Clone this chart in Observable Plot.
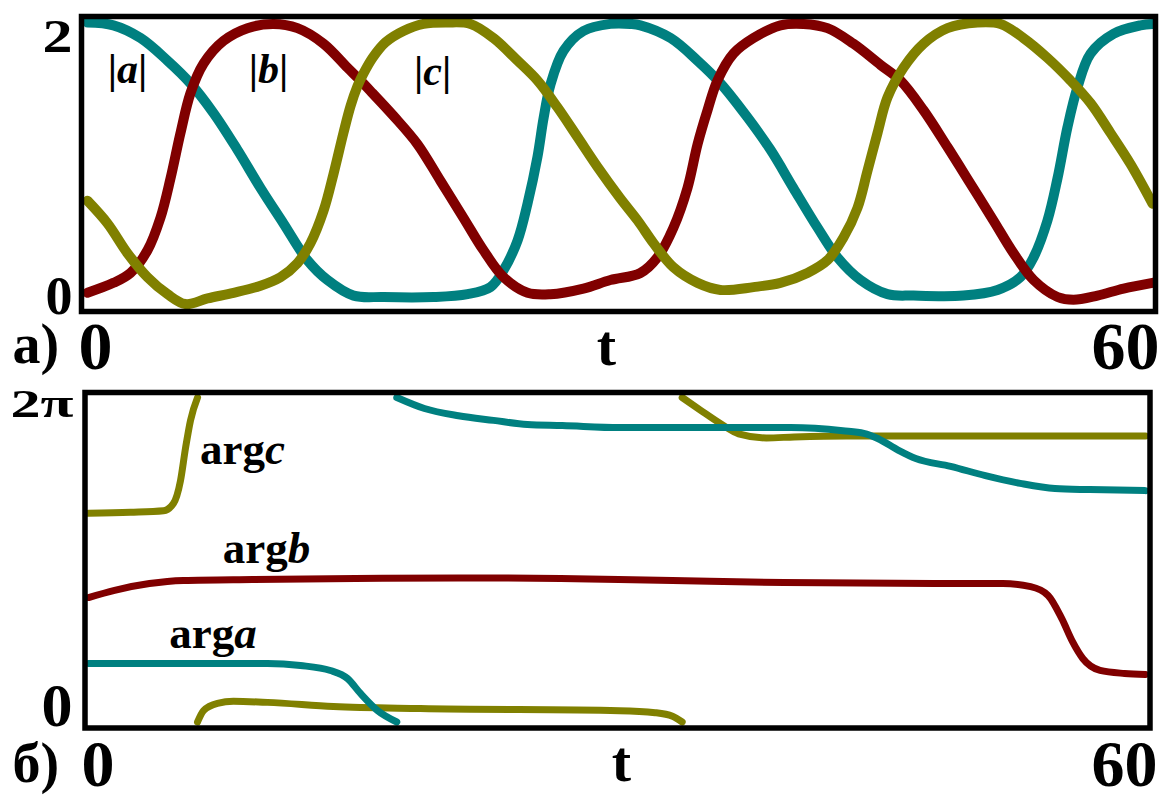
<!DOCTYPE html>
<html>
<head>
<meta charset="utf-8">
<script src="https://cdn.jsdelivr.net/npm/d3@7"></script>
<script src="https://cdn.jsdelivr.net/npm/@observablehq/plot@0.6"></script>
<style>
  html, body { margin: 0; padding: 0; background: #fff; }
  #chart svg { display: block; }
</style>
</head>
<body>
<div id="chart"></div>
<script>
// Moduli of the three wave amplitudes, [t, |x|]
const absA = [[0,2.0],[1.46,1.98],[2.99,1.89],[4.51,1.73],[5.80,1.57],[7.10,1.36],[8.45,1.10],[9.75,0.83],[11.04,0.58],[12.39,0.32],[13.52,0.18],[14.99,0.07],[16.68,0.06],[19.49,0.06],[21.41,0.08],[22.70,0.13],[23.44,0.25],[24.23,0.46],[24.79,0.72],[25.35,1.05],[25.69,1.32],[26.08,1.56],[26.82,1.80],[27.94,1.94],[29.46,1.99],[30.59,1.99],[31.15,1.98],[32.85,1.89],[34.37,1.73],[35.66,1.57],[37.18,1.33],[38.48,1.10],[39.77,0.83],[41.13,0.55],[42.25,0.34],[43.55,0.18],[45.07,0.08],[46.54,0.07],[49.35,0.07],[51.27,0.11],[52.56,0.20],[53.30,0.34],[54.08,0.60],[54.65,0.90],[55.21,1.26],[55.77,1.54],[56.51,1.78],[57.80,1.92],[59.32,1.98],[60,1.99]];
const absB = [[0,0.09],[1.46,0.16],[2.42,0.23],[3.38,0.39],[4.11,0.62],[4.68,0.90],[5.24,1.22],[5.80,1.50],[6.54,1.71],[7.66,1.87],[9.01,1.96],[10.48,1.99],[11.83,1.96],[13.30,1.85],[14.65,1.68],[15.38,1.59],[16.06,1.50],[17.24,1.34],[18.59,1.14],[19.89,0.88],[21.18,0.62],[22.31,0.39],[23.44,0.20],[24.79,0.09],[26.08,0.08],[27.94,0.12],[29.46,0.18],[31.15,0.23],[32.11,0.34],[33.01,0.55],[33.80,0.83],[34.37,1.14],[34.93,1.38],[35.49,1.59],[36.39,1.78],[37.52,1.89],[39.04,1.98],[40.34,1.99],[41.69,1.96],[43.15,1.85],[44.68,1.70],[45.80,1.59],[47.10,1.38],[48.45,1.12],[49.75,0.86],[51.04,0.60],[52.17,0.37],[53.30,0.18],[54.65,0.06],[55.55,0.04],[56.90,0.07],[58.37,0.12],[60,0.16]];
const absC = [[0,0.74],[1.13,0.58],[2.25,0.37],[3.38,0.20],[4.51,0.08],[5.52,0.01],[6.76,0.05],[8.23,0.09],[9.75,0.14],[10.87,0.20],[11.83,0.30],[12.56,0.44],[13.30,0.67],[13.86,0.93],[14.42,1.22],[14.82,1.41],[15.21,1.55],[15.55,1.64],[16.06,1.75],[16.79,1.86],[17.80,1.94],[18.93,1.99],[20.28,2.0],[21.58,1.99],[22.87,1.89],[24.23,1.73],[25.35,1.59],[26.48,1.40],[27.61,1.19],[28.73,0.98],[30.0,0.76],[31.0,0.60],[31.89,0.44],[33.01,0.27],[34.37,0.16],[35.66,0.11],[37.52,0.13],[39.04,0.16],[40.56,0.23],[41.69,0.32],[42.59,0.48],[43.38,0.69],[43.94,0.95],[44.51,1.22],[45.07,1.47],[45.97,1.68],[47.10,1.85],[48.45,1.96],[50.14,2.0],[51.44,1.99],[52.73,1.89],[54.08,1.75],[55.38,1.59],[56.51,1.43],[57.63,1.22],[58.76,1.00],[60,0.72]];

// Phases wrapped into [0, 2π]; each inner array is one continuous branch
const TWO_PI = 2 * Math.PI;
const argA = [
  [[0,1.133],[10.16,1.133],[12.03,1.094],[13.73,0.997],[14.70,0.842],[15.44,0.552],[16.40,0.223],[17.5,0]],
  [[17.5,TWO_PI],[19.07,6.07],[21.0,5.93],[22.99,5.84],[24.91,5.76],[26.9,5.74],[30.14,5.70],[34.14,5.70],[39.86,5.70],[42.82,5.64],[44.01,5.59],[44.80,5.49],[45.98,5.26],[46.96,5.10],[48.94,4.95],[50.91,4.77],[52.89,4.62],[54.86,4.52],[56.83,4.50],[60,4.48]]
];
const argB = [
  [[0,2.41],[1.48,2.55],[3.46,2.68],[5.39,2.74],[9.31,2.76],[15.15,2.78],[21.0,2.79],[30.1,2.76],[33.15,2.74],[39.47,2.70],[47.95,2.68],[51.9,2.68],[53.48,2.62],[54.47,2.45],[55.25,2.00],[55.85,1.56],[56.44,1.23],[57.42,1.00],[58.81,0.94],[60,0.92]]
];
const argC = [
  [[0,4.04],[2.38,4.06],[4.26,4.09],[4.82,4.23],[5.22,4.67],[5.51,5.31],[5.79,5.84],[6.19,TWO_PI]],
  [[6.19,0],[6.53,0.22],[7.32,0.36],[8.23,0.40],[10.16,0.38],[13.9,0.30],[18.84,0.26],[30.14,0.22],[32.17,0.18],[33.15,0.11],[33.7,0]],
  [[33.7,TWO_PI],[34.73,6.04],[35.91,5.77],[36.90,5.58],[38.48,5.50],[40.06,5.52],[43.02,5.54],[60,5.54]]
];

const seriesColors = ["#008080", "#800000", "#808000"];
const letters = ["a", "b", "c"];
const tDomain = [0, 60];
const xTickValues = [0, 60];
const absTicks = [0, 2];
const argTicks = [0, TWO_PI];
const argTickLabels = ["0", "2π"];

const serif = "'Liberation Serif', 'Times New Roman', serif";

const toRows = (pairs, key) => pairs.map(([t, v]) => ({t, v, key}));
const toBranchRows = (branches, name) =>
  branches.flatMap((b, i) => b.map(([t, v]) => ({t, v, key: `${name}${i}`})));
const plain = d => String(d);

// Replace "|a|" / "argb" style strings with an italic letter
function italicizeSymbols(svg) {
  d3.select(svg).selectAll("text").each(function () {
    const s = this.textContent;
    const m = s.match(/^(\||arg)([abc])(\|?)$/);
    if (!m) return;
    const el = d3.select(this);
    el.text(null);
    el.append("tspan").text(m[1]);
    el.append("tspan").attr("font-style", "italic").text(m[2]);
    if (m[3]) el.append("tspan").text(m[3]);
  });
}

function stretchLabel(svg, content, width) {
  d3.select(svg).selectAll("text")
    .filter(function () { return this.textContent === content; })
    .attr("textLength", width)
    .attr("lengthAdjust", "spacingAndGlyphs");
}

const common = {
  width: 1169,
  style: {fontFamily: serif, fontWeight: "bold", background: "#fff", color: "#000", overflow: "visible"}
};

// Panel (а): moduli
const panelA = Plot.plot({
  ...common,
  height: 380,
  marginLeft: 81, marginRight: 14, marginTop: 16, marginBottom: 69,
  x: {domain: tDomain, insetLeft: 6, insetRight: 3},
  y: {domain: [0, 2], insetTop: 6, insetBottom: 6},
  marks: [
    Plot.line(toRows(absA, "a"), {x: "t", y: "v", stroke: seriesColors[0], strokeWidth: 10, curve: "catmull-rom"}),
    Plot.line(toRows(absB, "b"), {x: "t", y: "v", stroke: seriesColors[1], strokeWidth: 10, curve: "catmull-rom"}),
    Plot.line(toRows(absC, "c"), {x: "t", y: "v", stroke: seriesColors[2], strokeWidth: 10, curve: "catmull-rom"}),
    Plot.frame({stroke: "#000", strokeWidth: 5.5}),
    Plot.axisY([absTicks[1]], {label: null, tickFormat: plain, tickSize: 0, tickPadding: 9, fontSize: 47, dy: 14}),
    Plot.axisY([absTicks[0]], {label: null, tickFormat: plain, tickSize: 0, tickPadding: 9, fontSize: 54, dy: -9}),
    Plot.axisX([xTickValues[0]], {label: null, tickFormat: plain, tickSize: 0, tickPadding: 9.5, fontSize: 68, textAnchor: "start", dx: -9}),
    Plot.axisX([xTickValues[1]], {label: null, tickFormat: plain, tickSize: 0, tickPadding: 9.5, fontSize: 68, textAnchor: "end", dx: 7}),
    Plot.text(["t"], {frameAnchor: "bottom", text: d => d, fontSize: 58, lineAnchor: "top", dx: -12, dy: 12}),
    Plot.text(["а)"], {frameAnchor: "bottom-left", text: d => d, fontSize: 56, textAnchor: "start", lineAnchor: "top", dx: -69, dy: 12}),
    Plot.text(letters.map(l => `|${l}|`), {x: [2.25, 10.2, 19.44], y: [1.67, 1.67, 1.65], text: d => d, fontSize: 42})
  ]
});

// Panel (б): phases
const panelB = Plot.plot({
  ...common,
  height: 416,
  marginLeft: 84.5, marginRight: 19.5, marginTop: 12, marginBottom: 68.5,
  x: {domain: tDomain, insetLeft: 3.5, insetRight: 4.5},
  y: {domain: [0, TWO_PI], insetTop: 5, insetBottom: 6},
  marks: [
    Plot.line(toBranchRows(argB, "b"), {x: "t", y: "v", z: "key", stroke: seriesColors[1], strokeWidth: 7, curve: "monotone-x"}),
    Plot.line(toBranchRows(argC, "c"), {x: "t", y: "v", z: "key", stroke: seriesColors[2], strokeWidth: 7, curve: "monotone-x"}),
    Plot.line(toBranchRows(argA, "a"), {x: "t", y: "v", z: "key", stroke: seriesColors[0], strokeWidth: 7, curve: "monotone-x"}),
    Plot.frame({stroke: "#000", strokeWidth: 5.5}),
    Plot.axisY([argTicks[1]], {label: null, tickSize: 0, tickPadding: 11.5, fontSize: 40, dy: 7, tickFormat: () => argTickLabels[1]}),
    Plot.axisY([argTicks[0]], {label: null, tickSize: 0, tickPadding: 12.5, fontSize: 62, dy: -15.5, tickFormat: () => argTickLabels[0]}),
    Plot.axisX([xTickValues[0]], {label: null, tickFormat: plain, tickSize: 0, tickPadding: 11, fontSize: 66, textAnchor: "start", dx: -7}),
    Plot.axisX([xTickValues[1]], {label: null, tickFormat: plain, tickSize: 0, tickPadding: 11, fontSize: 66, textAnchor: "end", dx: 12}),
    Plot.text(["t"], {frameAnchor: "bottom", text: d => d, fontSize: 58, lineAnchor: "top", dx: 4, dy: 12}),
    Plot.text(["б)"], {frameAnchor: "bottom-left", text: d => d, fontSize: 56, textAnchor: "start", lineAnchor: "top", dx: -72.5, dy: 14}),
    Plot.text(letters.map(l => `arg${l}`), {x: [7.07, 10.1, 8.74], y: [1.72, 3.35, 5.28], text: d => d, fontSize: 45})
  ]
});

italicizeSymbols(panelA);
italicizeSymbols(panelB);
stretchLabel(panelA, "2", 30);
stretchLabel(panelB, "2π", 63);

document.getElementById("chart").append(panelA, panelB);
</script>
</body>
</html>
